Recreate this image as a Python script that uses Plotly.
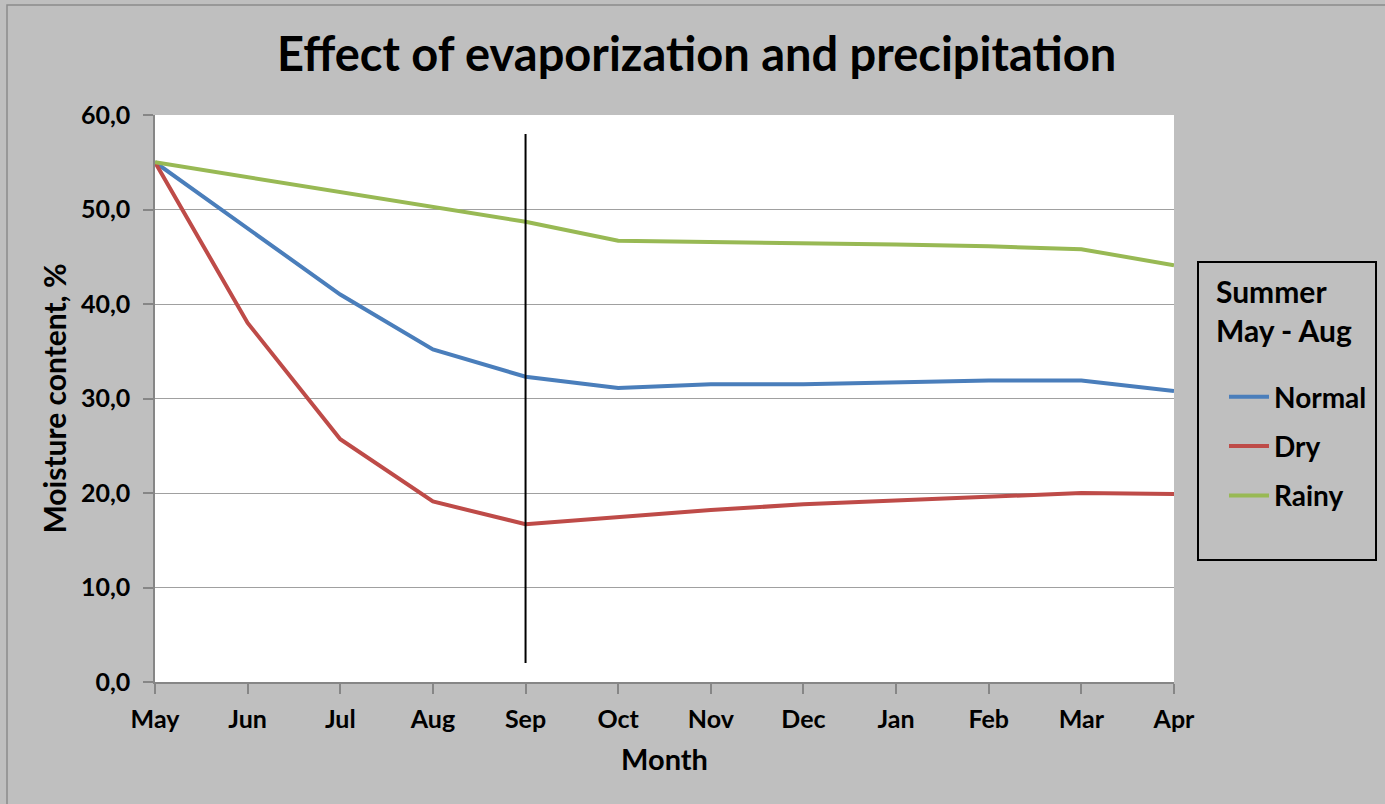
import plotly.graph_objects as go

months = ["May", "Jun", "Jul", "Aug", "Sep", "Oct", "Nov", "Dec", "Jan", "Feb", "Mar", "Apr"]
normal = [55.0, 48.0, 41.0, 35.2, 32.3, 31.1, 31.5, 31.5, 31.7, 31.9, 31.9, 30.8]
dry = [55.0, 38.0, 25.7, 19.1, 16.7, 17.5, 18.2, 18.8, 19.2, 19.7, 20.0, 19.9]
rainy = [55.0, 53.4, 51.8, 50.2, 48.7, 46.7, 46.6, 46.4, 46.3, 46.1, 45.8, 44.1]
marker_x = ["Sep", "Sep"]
marker_y = [2.0, 58.0]
legend_title = "Summer<br>May - Aug"

FONT = "Lato"
BG = "#bfbfbf"

PL, PR, PT, PB = 155, 1174, 115, 682
PW, PH = PR - PL, PB - PT


def px(x):
    return (x - PL) / PW


def py(y):
    return (PB - y) / PH


fig = go.Figure()
fig.add_trace(go.Scatter(x=months, y=normal, name="Normal", mode="lines",
                         line=dict(color="#4a7ebb", width=4), legendgroup="a"))
fig.add_trace(go.Scatter(x=months, y=dry, name="Dry", mode="lines",
                         line=dict(color="#be4b48", width=4), legendgroup="b"))
fig.add_trace(go.Scatter(x=months, y=rainy, name="Rainy", mode="lines",
                         line=dict(color="#98b954", width=4), legendgroup="c"))
fig.add_trace(go.Scatter(x=marker_x, y=marker_y, mode="lines", showlegend=False,
                         line=dict(color="black", width=2), hoverinfo="skip"))

fig.update_layout(
    width=1385, height=804,
    margin=dict(l=PL, r=1385 - PR, t=PT, b=804 - PB),
    paper_bgcolor=BG, plot_bgcolor="white",
    separators=",.",
    font=dict(family=FONT, color="black", size=20),
    title=dict(text="<b>Effect of evaporization and precipitation</b>",
               x=0.503, xanchor="center", y=1 - 55 / 804, yanchor="middle",
               font=dict(size=47, family=FONT)),
    showlegend=True,
    legend=dict(
        x=px(1224), xanchor="left", y=py(372), yanchor="top",
        bgcolor="rgba(0,0,0,0)", borderwidth=0,
        font=dict(size=28, family=FONT, weight="bold"),
        tracegroupgap=10, itemwidth=40,
    ),
    xaxis=dict(
        type="category", range=[0, 11],
        showline=True, linecolor="#868686", linewidth=1.5,
        ticks="outside", ticklen=10, tickcolor="#868686", tickwidth=1.5,
        tickfont=dict(size=25, family=FONT, weight="bold"),
        ticklabelstandoff=4,
        showgrid=False,
        title=dict(text="<b>Month</b>", font=dict(size=29, family=FONT), standoff=18),
    ),
    yaxis=dict(
        range=[0, 60], dtick=10, tickformat=".1f",
        showline=True, linecolor="#868686", linewidth=1.5,
        ticks="outside", ticklen=10, tickcolor="#868686", tickwidth=1.5,
        tickfont=dict(size=25, family=FONT, weight="bold"),
        ticklabelstandoff=8,
        showgrid=True, gridcolor="#a0a0a0", gridwidth=1.2,
        zeroline=False,
        title=dict(text="<b>Moisture content, %</b>", font=dict(size=30, family=FONT), standoff=5),
    ),
)

# legend title
fig.add_annotation(xref="paper", yref="paper", x=px(1214), y=py(310),
                   xanchor="left", yanchor="middle", align="left", showarrow=False,
                   text="<b>" + legend_title + "</b>",
                   font=dict(size=30, family=FONT, color="black"))

# outer chart border
fig.add_shape(type="rect", xref="paper", yref="paper",
              x0=px(7), x1=px(1390), y0=py(810), y1=py(5),
              line=dict(color="#8c8c8c", width=1.5), layer="below")
# legend frame
fig.add_shape(type="rect", xref="paper", yref="paper",
              x0=px(1198), x1=px(1376), y0=py(560), y1=py(262),
              line=dict(color="black", width=2), fillcolor="rgba(0,0,0,0)", layer="above")

fig.write_html("out.html")
